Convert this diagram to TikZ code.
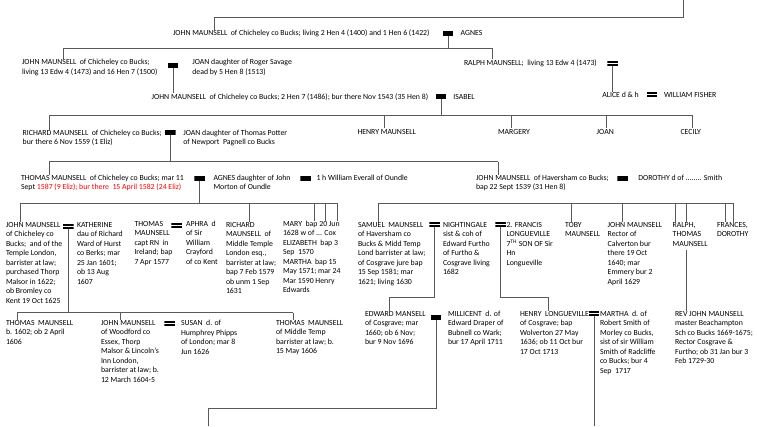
\documentclass[tikz,border=0pt]{standalone}
\usepackage{fontspec}
\setmainfont{Carlito}
\newcommand\fs{\fontsize{7.8}{9.5}\selectfont}
\begin{document}
\begin{tikzpicture}[x=1pt,y=-1pt,
  txt/.style={anchor=north west,inner sep=0pt,outer sep=0pt,align=left,font=\fs,text=black,execute at begin node={\rule{0pt}{6.1pt}}},
  marr/.style={minimum width=10.5pt,minimum height=5pt,inner sep=0pt,outer sep=0pt,fill=white,
    path picture={\fill[black] (path picture bounding box.north west) rectangle ([yshift=-2.2pt]path picture bounding box.north east);
                  \fill[black] ([yshift=2.2pt]path picture bounding box.south west) rectangle (path picture bounding box.south east);}},
  ln/.style={draw=black!65,line width=0.9pt}]
\useasboundingbox (0,0) rectangle (757,426);
\fill[white] (0,0) rectangle (757,426);

% ---- generation 1
\node[txt] (n1) at (173,29.7) {JOHN MAUNSELL~ of Chicheley co Bucks; living 2 Hen 4 (1400) and 1 Hen 6 (1422)};
\node[marr] (m1) at (448,33.8) {};
\node[txt] (a1) at (460.7,29.7) {AGNES};

% ---- generation 2
\node[txt] (n2a) at (22,59.4) {JOHN MAUNSELL~ of Chicheley co Bucks;\\living 13 Edw 4 (1473) and 16 Hen 7 (1500)};
\node[marr] (m2) at (173,65) {};
\node[txt] (j2) at (192.3,59.4) {JOAN daughter of Roger Savage\\dead by 5 Hen 8 (1513)};
\node[txt] (r2) at (464,59.4) {RALPH MAUNSELL;~ living 13 Edw 4 (1473)};
\node[marr] (m2r) at (612.7,63.5) {};

% ---- generation 3
\node[txt] (n3) at (151.7,93.1) {JOHN MAUNSELL~ of Chicheley co Bucks; 2 Hen 7 (1486); bur there Nov 1543 (35 Hen 8)};
\node[marr] (m3) at (441,96.8) {};
\node[txt] (i3) at (453.3,93.1) {ISABEL};
\node[txt] (al) at (602.3,91.6) {ALICE d \& h};
\node[marr] (mal) at (652,94.5) {};
\node[txt] (wf) at (664,91.6) {WILLIAM FISHER};

% ---- generation 4
\node[txt] (r4) at (22.7,129.7) {RICHARD MAUNSELL~ of Chicheley co Bucks;\\bur there 6 Nov 1559 (1 Eliz)};
\node[marr] (m4) at (170.3,132.8) {};
\node[txt] (j4) at (183.3,129.7) {JOAN daughter of Thomas Potter\\of Newport~ Pagnell co Bucks};
\node[txt] (h4) at (357.5,128) {HENRY MAUNSELL};
\node[txt] (mg) at (498,128) {MARGERY};
\node[txt] (jo) at (596.7,128) {JOAN};
\node[txt] (ce) at (680.5,128) {CECILY};

% ---- generation 5
\node[txt] (t5) at (21,174.7) {THOMAS MAUNSELL~ of Chicheley co Bucks; mar 11\\Sept \textcolor{red}{1587 (9 Eliz); bur there~ 15 April 1582 (24 Eliz)}};
\node[marr] (m5) at (199.5,178.8) {};
\node[txt] (a5) at (213.5,174.7) {AGNES daughter of John\\Morton of Oundle};
\node[marr] (m5b) at (305.5,178.8) {};
\node[txt] (w5) at (316.5,174.7) {1 h William Everall of Oundle};
\node[txt] (jh) at (476,174.7) {JOHN MAUNSELL~ of Haversham co Bucks;\\bap 22 Sept 1539 (31 Hen 8)};
\node[marr] (mjh) at (622.5,178.8) {};
\node[txt] (do) at (638.3,174.7) {DOROTHY d of ........ Smith};

% ---- generation 6
\node[txt] (j6) at (6,222) {JOHN MAUNSELL\\of Chicheley co\\Bucks;~ and of the\\Temple London,\\barrister at law;\\purchased Thorp\\Malsor in 1622;\\ob Bromley co\\Kent 19 Oct 1625};
\node[marr] (m6a) at (68.3,226.5) {};
\node[txt] (k6) at (77,222) {KATHERINE\\dau of Richard\\Ward of Hurst\\co Berks; mar\\25 Jan 1601;\\ob 13 Aug\\1607};
\node[txt] (t6) at (134.5,221) {THOMAS\\MAUNSELL\\capt RN~ in\\Ireland; bap\\7 Apr 1577};
\node[marr] (m6t) at (176.7,225.3) {};
\node[txt] (a6) at (186,221) {APHRA~ d\\of Sir\\William\\Crayford\\of co Kent};
\node[txt] (r6) at (226,222) {RICHARD\\MAUNSELL~ of\\Middle Temple\\London esq.,\\barrister at law;\\bap 7 Feb 1579\\ob unm 1 Sep\\1631};
\node[txt] (my6) at (283,221) {MARY~ bap 20 Jun\\1628 w of ... Cox\\ELIZABETH~ bap 3\\Sep~ 1570\\MARTHA~ bap 15\\May 1571; mar 24\\Mar 1590 Henry\\Edwards};
\node[txt] (s6) at (358,222) {SAMUEL~ MAUNSELL\\of Haversham co\\Bucks \& Midd Temp\\Lond barrister at law;\\of Cosgrave jure bap\\15 Sep 1581; mar\\1621; living 1630};
\node[marr] (m6s) at (434.5,224.5) {};
\node[txt] (ng) at (443,222) {NIGHTINGALE\\sist \& coh of\\Edward Furtho\\of Furtho \&\\Cosgrave living\\1682};
\node[marr] (m6n) at (500.5,224.5) {};
\node[txt] (fr) at (506.5,222) {2. FRANCIS\\LONGUEVILLE\\7\textsuperscript{TH} SON OF Sir\\Hn\\Longueville};
\node[txt] (tb) at (565,222) {TOBY\\MAUNSELL};
\node[txt] (jr) at (607.7,222) {JOHN MAUNSELL\\Rector of\\Calverton bur\\there 19 Oct\\1640; mar\\Emmery bur 2\\April 1629};
\node[txt] (rt) at (672.7,222) {RALPH,\\THOMAS\\MAUNSELL};
\node[txt] (fd) at (717,222) {FRANCES,\\DOROTHY};

% ---- generation 7
\node[txt] (t7) at (6,320.4) {THOMAS~ MAUNSELL\\b. 1602; ob 2 April\\1606};
\node[txt] (j7) at (101,320.4) {JOHN MAUNSELL\\of Woodford co\\Essex, Thorp\\Malsor \& Lincoln's\\Inn London,\\barrister at law; b.\\12 March 1604-5};
\node[marr] (m7j) at (169.5,323.7) {};
\node[txt] (su) at (181,320.4) {SUSAN~ d. of\\Humphrey Phipps\\of London; mar 8\\Jun 1626};
\node[txt] (tm) at (276,320.4) {THOMAS~ MAUNSELL\\of Middle Temp\\barrister at law; b.\\15 May 1606};
\node[txt] (ed) at (365,311) {EDWARD MANSELL\\of Cosgrave; mar\\1660; ob 6 Nov;\\bur 9 Nov 1696};
\node[marr] (m7e) at (436,317) {};
\node[txt] (mi) at (448,311) {MILLICENT~ d. of\\Edward Draper of\\Bubnell co Wark;\\bur 17 April 1711};
\node[txt] (hl) at (520,311) {HENRY~ LONGUEVILLE\\of Cosgrave; bap\\Wolverton 27 May\\1636; ob 11 Oct bur\\17 Oct 1713};
\node[marr] (m7h) at (594,313.5) {};
\node[txt] (ma) at (600,311) {MARTHA~ d. of\\Robert Smith of\\Morley co Bucks,\\sist of sir William\\Smith of Radcliffe\\co Bucks; bur 4\\Sep~ 1717};
\node[txt] (rj) at (675,311) {REV JOHN MAUNSELL\\master Beachampton\\Sch co Bucks 1669-1675;\\Rector Cosgrave \&\\Furtho; ob 31 Jan bur 3\\Feb 1729-30};

% ---- connectors
\coordinate (top) at (683,0);
\coordinate (tc) at (214,17);
\draw[ln] (top) -- (top |- tc) -- (tc) -- (tc |- n1.north);

\coordinate (g1l) at (63.3,48);
\coordinate (g1r) at (492.3,48);
\draw[ln] (m1.south) -- (m1.south |- g1l);
\draw[ln] (g1l) -- (g1r);
\draw[ln] (g1l) -- (g1l |- n2a.north);
\draw[ln] (g1r) -- (g1r |- r2.north);

\draw[ln] (m2.south) -- (m2.south |- n3.north);
\draw[ln] (m2r.south) -- (m2r.south |- al.north);

\coordinate (g3l) at (49.3,115);
\coordinate (g3r) at (692.7,115);
\coordinate (g3h) at (384,115);
\coordinate (g3m) at (511.7,115);
\coordinate (g3j) at (606,115);
\draw[ln] (m3.south) -- (m3.south |- g3l);
\draw[ln] (g3l) -- (g3r);
\draw[ln] (g3l) -- (g3l |- r4.north);
\draw[ln] (g3h) -- (g3h |- h4.north);
\draw[ln] (g3m) -- (g3m |- mg.north);
\draw[ln] (g3j) -- (g3j |- jo.north);
\draw[ln] (g3r) -- (g3r |- ce.north);

\coordinate (g4l) at (49.3,161.7);
\coordinate (g4r) at (498,161.7);
\draw[ln] (m4.south) -- (m4.south |- g4l);
\draw[ln] (g4l) -- (g4r);
\draw[ln] (g4l) -- (g4l |- t5.north);
\draw[ln] (g4r) -- (g4r |- jh.north);

\coordinate (g5l) at (20.7,203.3);
\coordinate (g5r) at (337,203.3);
\coordinate (g5a) at (249.3,203.3);
\coordinate (g5b) at (314,203.3);
\coordinate (g5c) at (325.7,203.3);
\draw[ln] (m5.south) -- (m5.south |- g5l);
\draw[ln] (g5l) -- (g5r);
\draw[ln] (g5l) -- (g5l |- j6.north);
\draw[ln] (g5a) -- (g5a |- r6.north);
\draw[ln] (g5b) -- (g5b |- my6.north);
\draw[ln] (g5c) -- (g5c |- my6.north);
\draw[ln] (g5r) -- (g5r |- my6.north);

\coordinate (h5l) at (378.3,203.3);
\coordinate (h5r) at (733.3,203.3);
\coordinate (h5t) at (571.7,203.3);
\coordinate (h5j) at (622.7,203.3);
\coordinate (h5a) at (675.7,203.3);
\coordinate (h5b) at (686.7,203.3);
\coordinate (h5f) at (725,203.3);
\draw[ln] (h5l) -- (h5r);
\draw[ln] (h5l) -- (h5l |- s6.north);
\draw[ln] (h5t) -- (h5t |- tb.north);
\draw[ln] (h5j) -- (h5j |- jr.north);
\draw[ln] (h5a) -- (h5a |- rt.north);
\draw[ln] (h5b) -- (h5b |- rt.north);
\draw[ln] (h5f) -- (h5f |- fd.north);
\draw[ln] (h5r) -- (h5r |- fd.north);
\coordinate (rtb) at (686.7,250);
\draw[ln] (rtb) -- (rtb |- rj.north);

\coordinate (g6l) at (17.3,312.5);
\coordinate (g6r) at (293.3,312.5);
\coordinate (g6m) at (120,312.5);
\draw[ln] (m6a.south) -- (m6a.south |- g6l);
\draw[ln] (g6l) -- (g6r);
\draw[ln] (g6l) -- (g6l |- t7.north);
\draw[ln] (g6m) -- (g6m |- j7.north);
\draw[ln] (g6r) -- (g6r |- tm.north);

\coordinate (cS) at (389.3,297.5);
\draw[ln] (m6s.south) -- (m6s.south |- cS) -- (cS) -- (cS |- ed.north);
\coordinate (cN) at (548.3,297.5);
\draw[ln] (m6n.south) -- (m6n.south |- cN) -- (cN) -- (cN |- hl.north);

\coordinate (cE) at (208,408);
\coordinate (bot) at (0,426);
\draw[ln] (m7e.south) -- (m7e.south |- cE) -- (cE) -- (cE |- bot);
\draw[ln] (m7h.south) -- (m7h.south |- bot);
\end{tikzpicture}
\end{document}
